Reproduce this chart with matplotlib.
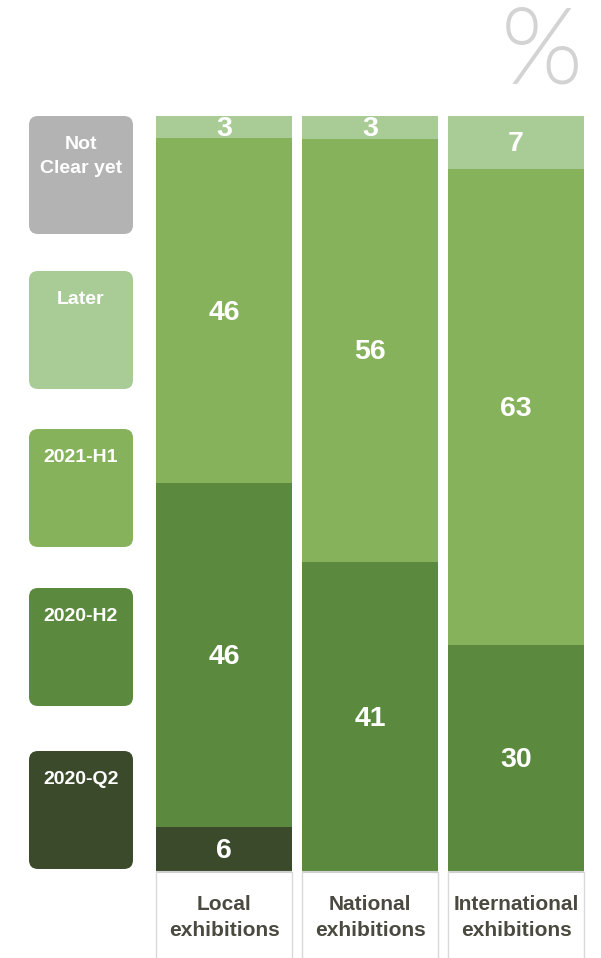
import numpy as np
import matplotlib.pyplot as plt
from matplotlib.patches import FancyBboxPatch

plt.rcParams['font.family'] = ['Liberation Sans', 'DejaVu Sans']

categories = ["Local\nexhibitions", "National\nexhibitions", "International\nexhibitions"]
# stacked bottom -> top
q2_2020 = [6, 0, 0]
h2_2020 = [46, 41, 30]
h1_2021 = [46, 56, 63]
later = [3, 3, 7]
series = [q2_2020, h2_2020, h1_2021, later]
colors = ["#3b4a2b", "#5b8a3f", "#86b25c", "#a9cb96"]

legend_labels = ["Not\nClear yet", "Later", "2021-H1", "2020-H2", "2020-Q2"]
legend_colors = ["#b3b3b3", "#a9cb96", "#86b25c", "#5b8a3f", "#3b4a2b"]

W, H = 601, 958
fig = plt.figure(figsize=(W / 100, H / 100), dpi=100)

# bar area in pixels
x0, x1, y0, y1 = 156, 584, 116, 872
ax = fig.add_axes([x0 / W, 1 - y1 / H, (x1 - x0) / W, (y1 - y0) / H])
half = 136 / 146 / 2
ax.set_xlim(-half, 2 + half)
ax.set_ylim(0, 100)
ax.axis("off")

vals = np.array(series, dtype=float)
shares = vals / vals.sum(axis=0) * 100
x = np.arange(len(categories))
bottom = np.zeros(len(categories))
for raw, sh, c in zip(vals, shares, colors):
    ax.bar(x, sh, bottom=bottom, width=2 * half, color=c, linewidth=0)
    for i in range(len(x)):
        if raw[i] > 0:
            ax.text(x[i], bottom[i] + sh[i] / 2 - 0.25, f"{raw[i]:.0f}", ha="center", va="center",
                    color="white", fontsize=20.5, fontweight="bold")
    bottom += sh

# category label boxes under the bars (pixel -> data units)
px = 100 / (y1 - y0)
depth = (H - y1) * px
for i, cat in enumerate(categories):
    l, r = x[i] - half, x[i] + half
    ax.plot([l, r], [0, 0], color="#d0d0d0", lw=1.5, clip_on=False, solid_capstyle="butt")
    ax.plot([l, l], [0, -depth], color="#d9d9d9", lw=1, clip_on=False)
    ax.plot([r, r], [0, -depth], color="#d9d9d9", lw=1, clip_on=False)
    for k, line in enumerate(cat.split("\n")):
        ax.text(x[i], -(910 - y1 + 26 * k) * px, line, ha="center", va="baseline",
                color="#4a4a40", fontsize=15, fontweight="bold", clip_on=False)

# overlay in pixel coordinates for legend boxes and the % sign
ov = fig.add_axes([0, 0, 1, 1], facecolor="none")
ov.set_xlim(0, W)
ov.set_ylim(H, 0)
ov.axis("off")

tops = [116, 271, 429, 588, 751]
for top, lab, c in zip(tops, legend_labels, legend_colors):
    ov.add_patch(FancyBboxPatch((29 + 9, top + 9), 104 - 18, 118 - 18,
                                boxstyle="round,pad=9", fc=c, ec="none"))
    for k, line in enumerate(lab.split("\n")):
        ov.text(81, top + 33 + 24 * k, line, ha="center", va="baseline", color="white",
                fontsize=14, fontweight="bold")

ov.text(542, 54, "%", ha="center", va="center", color="#d3d3d3", fontsize=76,
        family=["Lato", "DejaVu Sans"], fontweight=300)

fig.savefig("out.png", dpi=100)
